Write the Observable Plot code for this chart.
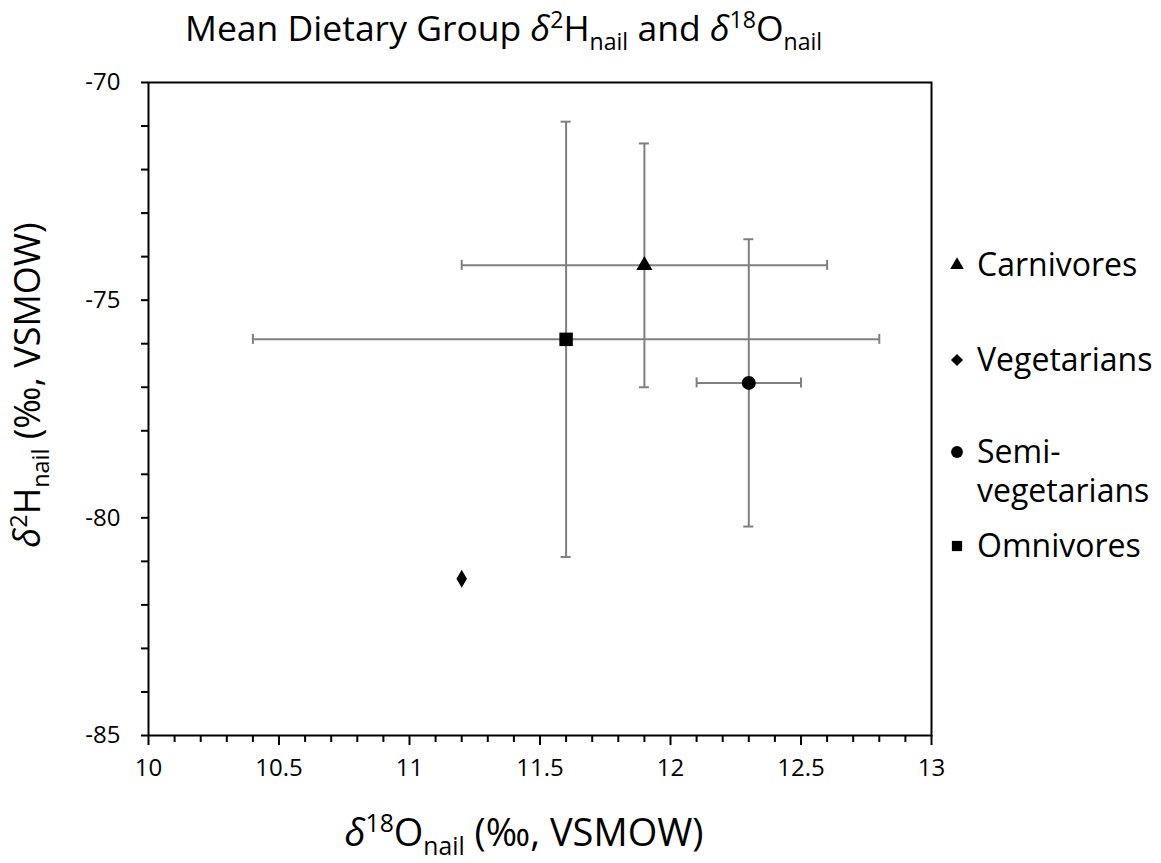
<!DOCTYPE html>
<html><head><meta charset="utf-8">
<script src="https://cdn.jsdelivr.net/npm/d3@7"></script>
<script src="https://cdn.jsdelivr.net/npm/@observablehq/plot@0.6"></script>
<style>body{margin:0;background:#fff;} svg{display:block}</style>
</head><body><div id="chart"></div>
<script>
// ---- data ----
const groups = ["Carnivores", "Vegetarians", "Semi-vegetarians", "Omnivores"];
const d18O = [11.9, 11.2, 12.3, 11.6];
const d18OErr = [0.7, null, 0.2, 1.2];
const d2H = [-74.2, -81.4, -76.9, -75.9];
const d2HErr = [2.8, null, 3.3, 5.0];
const xTicks = [10, 10.5, 11, 11.5, 12, 12.5, 13];
const yTicks = [-70, -75, -80, -85];
const legendLines = [["Carnivores"], ["Vegetarians"], ["Semi-", "vegetarians"], ["Omnivores"]];

const data = groups.map((g, i) => ({group: g, x: d18O[i], xe: d18OErr[i], y: d2H[i], ye: d2HErr[i]}));
const withErr = data.filter(d => d.xe != null);
const FONT = "'Open Sans', sans-serif";
const W = 1161, H = 863;
const errColor = "#7f7f7f";

const xMinor = d3.range(100, 131).map(v => v / 10).filter(v => !xTicks.includes(v));
const yMinor = d3.range(-85, -69).filter(v => !yTicks.includes(v));

const dotFor = (name, symbol, r) => Plot.dot(data.filter(d => d.group === name),
  {x: "x", y: "y", symbol: symbol, r: r, fill: "black", stroke: "none"});

const chart = Plot.plot({
  width: W, height: H,
  marginLeft: 148, marginRight: 230, marginTop: 82, marginBottom: 128,
  style: {fontFamily: FONT, color: "black", background: "white"},
  x: {domain: [10, 13], label: null},
  y: {domain: [-85, -70], label: null},
  marks: [
    Plot.axisX({ticks: xMinor, tickSize: 7, text: null, strokeWidth: 2}),
    Plot.axisX({ticks: xTicks, tickSize: 10, text: null, strokeWidth: 2, label: null}),
    Plot.axisY({ticks: yMinor, tickSize: 7, text: null, strokeWidth: 2}),
    Plot.axisY({ticks: yTicks, tickSize: 7, text: null, strokeWidth: 2, label: null}),
    // tick labels
    Plot.text(xTicks, {x: d => d, text: d => String(d), frameAnchor: "bottom", dy: 40, fontSize: 24, fill: "black"}),
    Plot.text(yTicks, {y: d => d, text: d => String(d), frameAnchor: "left", dx: -28, textAnchor: "end", fontSize: 24, fill: "black"}),
    // horizontal error bars
    Plot.ruleY(withErr, {y: "y", x1: d => d.x - d.xe, x2: d => d.x + d.xe, stroke: errColor, strokeWidth: 2}),
    Plot.ruleX(withErr, {x: d => d.x - d.xe, y1: "y", y2: "y", insetTop: -5, insetBottom: -5, stroke: errColor, strokeWidth: 2}),
    Plot.ruleX(withErr, {x: d => d.x + d.xe, y1: "y", y2: "y", insetTop: -5, insetBottom: -5, stroke: errColor, strokeWidth: 2}),
    // vertical error bars
    Plot.ruleX(withErr, {x: "x", y1: d => d.y - d.ye, y2: d => d.y + d.ye, stroke: errColor, strokeWidth: 2}),
    Plot.ruleY(withErr, {y: d => d.y - d.ye, x1: "x", x2: "x", insetLeft: -5, insetRight: -5, stroke: errColor, strokeWidth: 2}),
    Plot.ruleY(withErr, {y: d => d.y + d.ye, x1: "x", x2: "x", insetLeft: -5, insetRight: -5, stroke: errColor, strokeWidth: 2}),
    dotFor("Carnivores", "triangle", 6),
    dotFor("Vegetarians", "diamond", 5.5),
    dotFor("Semi-vegetarians", "circle", 7),
    dotFor("Omnivores", "square", 7.6),
    Plot.frame({stroke: "black", strokeWidth: 2})
  ]
});
document.getElementById("chart").appendChild(chart);

const svg = d3.select(chart);

// ---- rich text helpers ----
function rich(g, parts, fs) {
  let shift = 0;
  for (const p of parts) {
    const size = p.sup || p.sub ? fs * 0.65 : fs;
    const target = p.sup ? -0.36 * fs : p.sub ? 0.24 * fs : 0;
    const ts = g.append("tspan").text(p.t).attr("font-size", size);
    if (target !== shift) ts.attr("dy", target - shift);
    if (p.it) ts.attr("font-style", "italic");
    shift = target;
  }
}
const delta = {t: "δ", it: true};

// title
const t = svg.append("text").attr("x", 185).attr("y", 41).attr("text-anchor", "start")
  .attr("font-family", FONT).attr("font-size", 35.5).attr("fill", "black");
rich(t, [{t: "Mean Dietary Group "}, delta, {t: "2", sup: true}, {t: "H"}, {t: "nail", sub: true},
  {t: " and "}, delta, {t: "18", sup: true}, {t: "O"}, {t: "nail", sub: true}], 35.5);

// x title
const xt = svg.append("text").attr("x", 524).attr("y", 846).attr("text-anchor", "middle")
  .attr("font-family", FONT).attr("font-size", 38).attr("fill", "black");
rich(xt, [delta, {t: "18", sup: true}, {t: "O"}, {t: "nail", sub: true}, {t: " (‰, VSMOW)"}], 38);

// y title
const yt = svg.append("text").attr("transform", "translate(40,385) rotate(-90)").attr("text-anchor", "middle")
  .attr("font-family", FONT).attr("font-size", 36).attr("fill", "black");
rich(yt, [delta, {t: "2", sup: true}, {t: "H"}, {t: "nail", sub: true}, {t: " (‰, VSMOW)"}], 36);

// legend
const legendY = [265, 360, 452, 546];
const legSyms = [d3.symbolTriangle, d3.symbolDiamond2, d3.symbolCircle, d3.symbolSquare];
const legSizes = [80, 95, 110, 105];
const lg = svg.append("g").attr("font-family", FONT).attr("font-size", 32).attr("fill", "black");
legendLines.forEach((lines, i) => {
  lg.append("path").attr("transform", `translate(957,${legendY[i]})`)
    .attr("d", d3.symbol(legSyms[i], legSizes[i])()).attr("fill", "black");
  lines.forEach((ln, j) => {
    lg.append("text").attr("x", 977).attr("y", legendY[i] + j * 39).attr("dy", "0.35em")
      .attr("text-anchor", "start").text(ln);
  });
});
</script>
</body></html>
